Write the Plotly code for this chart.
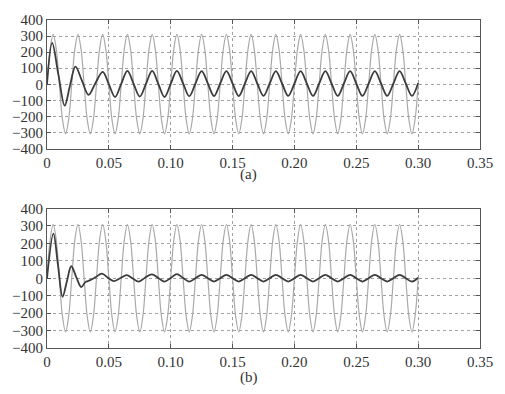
import plotly.graph_objects as go

# ---------------- data ----------------
# supply voltage, sampled every 1/8 period (both panels)
t_volt = [0.0000, 0.0025, 0.0050, 0.0075, 0.0100, 0.0125, 0.0150, 0.0175,
          0.0200, 0.0225, 0.0250, 0.0275, 0.0300, 0.0325, 0.0350, 0.0375,
          0.0400, 0.0425, 0.0450, 0.0475, 0.0500, 0.0525, 0.0550, 0.0575,
          0.0600, 0.0625, 0.0650, 0.0675, 0.0700, 0.0725, 0.0750, 0.0775,
          0.0800, 0.0825, 0.0850, 0.0875, 0.0900, 0.0925, 0.0950, 0.0975,
          0.1000, 0.1025, 0.1050, 0.1075, 0.1100, 0.1125, 0.1150, 0.1175,
          0.1200, 0.1225, 0.1250, 0.1275, 0.1300, 0.1325, 0.1350, 0.1375,
          0.1400, 0.1425, 0.1450, 0.1475, 0.1500, 0.1525, 0.1550, 0.1575,
          0.1600, 0.1625, 0.1650, 0.1675, 0.1700, 0.1725, 0.1750, 0.1775,
          0.1800, 0.1825, 0.1850, 0.1875, 0.1900, 0.1925, 0.1950, 0.1975,
          0.2000, 0.2025, 0.2050, 0.2075, 0.2100, 0.2125, 0.2150, 0.2175,
          0.2200, 0.2225, 0.2250, 0.2275, 0.2300, 0.2325, 0.2350, 0.2375,
          0.2400, 0.2425, 0.2450, 0.2475, 0.2500, 0.2525, 0.2550, 0.2575,
          0.2600, 0.2625, 0.2650, 0.2675, 0.2700, 0.2725, 0.2750, 0.2775,
          0.2800, 0.2825, 0.2850, 0.2875, 0.2900, 0.2925, 0.2950, 0.2975,
          0.3000]
volt = [0, 219, 310, 219, 0, -218, -308, -218,
        0, 219, 310, 219, 0, -218, -308, -218,
        0, 219, 310, 219, 0, -218, -308, -218,
        0, 219, 310, 219, 0, -218, -308, -218,
        0, 219, 310, 219, 0, -218, -308, -218,
        0, 219, 310, 219, 0, -218, -308, -218,
        0, 219, 310, 219, 0, -218, -308, -218,
        0, 219, 310, 219, 0, -218, -308, -218,
        0, 219, 310, 219, 0, -218, -308, -218,
        0, 219, 310, 219, 0, -218, -308, -218,
        0, 219, 310, 219, 0, -218, -308, -218,
        0, 219, 310, 219, 0, -218, -308, -218,
        0, 219, 310, 219, 0, -218, -308, -218,
        0, 219, 310, 219, 0, -218, -308, -218,
        0, 219, 310, 219, 0, -218, -308, -218,
        0]

# current, panel (a)
t_cur_a = [0.000, 0.0042, 0.0092, 0.0143, 0.0185, 0.0230, 0.0283, 0.0336, 0.039, 0.045,
           0.050, 0.055, 0.060, 0.065, 0.070, 0.075, 0.080, 0.085, 0.090, 0.095,
           0.100, 0.105, 0.110, 0.115, 0.120, 0.125, 0.130, 0.135, 0.140, 0.145,
           0.150, 0.155, 0.160, 0.165, 0.170, 0.175, 0.180, 0.185, 0.190, 0.195,
           0.200, 0.205, 0.210, 0.215, 0.220, 0.225, 0.230, 0.235, 0.240, 0.245,
           0.250, 0.255, 0.260, 0.265, 0.270, 0.275, 0.280, 0.285, 0.290, 0.295,
           0.300]
cur_a = [0, 258, 60, -133, -10, 110, 22, -66, 5, 78,
         0, -79, 3, 83, 3, -76, 3, 83, 2, -79,
         3, 83, 5, -74, 5, 82, 5, -73, 5, 82,
         5, -73, 5, 82, 5, -72, 5, 82, 5, -72,
         5, 82, 5, -72, 5, 82, 5, -72, 5, 82,
         5, -72, 5, 82, 5, -72, 5, 82, 5, -72,
         8]

# current, panel (b)
t_cur_b = [0.000, 0.0052, 0.0088, 0.0126, 0.0160, 0.0196, 0.0235, 0.0277, 0.031, 0.0345,
           0.039, 0.0444, 0.049, 0.0538, 0.059, 0.0645, 0.069, 0.074, 0.079, 0.0847,
           0.090, 0.095, 0.100, 0.105, 0.110, 0.115, 0.120, 0.125, 0.130, 0.135,
           0.140, 0.145, 0.150, 0.155, 0.160, 0.165, 0.170, 0.175, 0.180, 0.185,
           0.190, 0.195, 0.200, 0.205, 0.210, 0.215, 0.220, 0.225, 0.230, 0.235,
           0.240, 0.245, 0.250, 0.255, 0.260, 0.265, 0.270, 0.275, 0.280, 0.285,
           0.290, 0.295, 0.300]
cur_b = [0, 256, 80, -106, -20, 69, 10, -50, -22, -12,
         5, 27, 5, -16, 0, 18, 0, -19, 2, 23,
         2, -19, 2, 24, 2, -19, 0, 20, 0, -19,
         0, 20, 0, -19, 0, 20, 0, -19, 0, 20,
         0, -19, 0, 20, 0, -19, 0, 20, 0, -19,
         0, 20, 0, -19, 0, 20, 0, -19, 0, 20,
         0, -19, 3]

x_ticks = [0, 0.05, 0.10, 0.15, 0.20, 0.25, 0.30, 0.35]
x_tick_text = ["0", "0.05", "0.10", "0.15", "0.20", "0.25", "0.30", "0.35"]
y_ticks = [-400, -300, -200, -100, 0, 100, 200, 300, 400]
panel_labels = ["(a)", "(b)"]

# ---------------- figure ----------------
VOLT_COLOR = "#a9a9a9"
CUR_COLOR = "#3c3c3c"
FONT = dict(family="Liberation Serif, serif", size=15, color="#333333")

fig = go.Figure()
for xa, ya, tc, cc in [("x", "y", t_cur_a, cur_a), ("x2", "y2", t_cur_b, cur_b)]:
    fig.add_trace(go.Scatter(x=t_volt, y=volt, mode="lines", xaxis=xa, yaxis=ya,
                             line=dict(color=VOLT_COLOR, width=1.2, shape="spline", smoothing=1.0),
                             showlegend=False, hoverinfo="skip"))
    fig.add_trace(go.Scatter(x=tc, y=cc, mode="lines", xaxis=xa, yaxis=ya,
                             line=dict(color=CUR_COLOR, width=1.8, shape="spline", smoothing=1.0),
                             showlegend=False, hoverinfo="skip"))

common_x = dict(range=[0, 0.35], tickvals=x_ticks, ticktext=x_tick_text,
                showgrid=True, gridcolor="#a0a0a0", griddash="dot", gridwidth=1,
                showline=True, linecolor="#555555", linewidth=1, mirror="ticks",
                ticks="inside", ticklen=4, tickcolor="#555555", zeroline=False,
                tickfont=FONT)
common_y = dict(range=[-400, 400], tickvals=y_ticks,
                showgrid=True, gridcolor="#a0a0a0", griddash="dot", gridwidth=1,
                showline=True, linecolor="#555555", linewidth=1, mirror="ticks",
                ticks="inside", ticklen=4, tickcolor="#555555", zeroline=False,
                tickfont=FONT)

fig.update_layout(
    width=505, height=394,
    margin=dict(l=45, r=23, t=14, b=46),
    paper_bgcolor="white", plot_bgcolor="white",
    font=FONT,
    xaxis=dict(common_x, domain=[0, 1], anchor="y"),
    yaxis=dict(common_y, domain=[0.6078, 1.0], anchor="x"),
    xaxis2=dict(common_x, domain=[0, 1], anchor="y2"),
    yaxis2=dict(common_y, domain=[0.0, 0.4251], anchor="x2"),
    annotations=[
        dict(text=panel_labels[0], x=0.4645, y=0.53, xref="paper", yref="paper",
             showarrow=False, font=FONT, xanchor="center", yanchor="middle"),
        dict(text=panel_labels[1], x=0.467, y=-0.09, xref="paper", yref="paper",
             showarrow=False, font=FONT, xanchor="center", yanchor="middle"),
    ],
)

fig.write_html("out.html", config={"displayModeBar": False},
               post_script="document.body.style.margin='0';document.body.style.overflow='hidden';")
